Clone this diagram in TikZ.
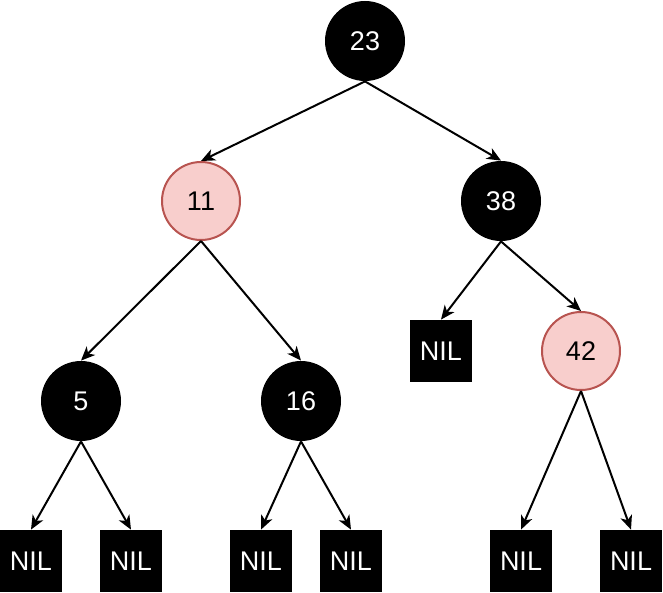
\documentclass[tikz,border=0pt]{standalone}
\usepackage{fontspec}
\setmainfont{Liberation Sans}
\usetikzlibrary{arrows.meta}
\definecolor{redfill}{HTML}{F8CECC}
\definecolor{redline}{HTML}{B85450}
\tikzset{
    blacknode/.style = {circle, fill=black, text=white, minimum size=40pt, inner sep=0pt, font=\fontsize{13.5}{16}\selectfont},
    rednode/.style = {circle, draw=redline, line width=1pt, fill=redfill, text=black, minimum size=39pt, inner sep=0pt, font=\fontsize{13.5}{16}\selectfont},
    nilnode/.style = {rectangle, fill=black, text=white, minimum size=31pt, inner sep=0pt, font=\fontsize{13.5}{16}\selectfont},
    edge/.style = {-{Stealth[length=7pt, width=6pt, inset=2pt]}, line width=1pt}
}
\begin{document}
\begin{tikzpicture}[x=0.5pt, y=-0.5pt]
    \useasboundingbox (0, 0) rectangle (663, 593);
    % inner nodes
    \node [blacknode] (n23) at (365, 41) {23};
    \node [rednode] (n11) at (201, 201) {11};
    \node [blacknode] (n38) at (501, 201) {38};
    \node [blacknode] (n5) at (81, 401) {5};
    \node [blacknode] (n16) at (301, 401) {16};
    \node [rednode] (n42) at (581, 351) {42};
    % leaves
    \node [nilnode] (nil38) at (441, 351) {NIL};
    \node [nilnode] (nil5a) at (31, 561) {NIL};
    \node [nilnode] (nil5b) at (131, 561) {NIL};
    \node [nilnode] (nil16a) at (261, 561) {NIL};
    \node [nilnode] (nil16b) at (351, 561) {NIL};
    \node [nilnode] (nil42a) at (521, 561) {NIL};
    \node [nilnode] (nil42b) at (631, 561) {NIL};
    % edges
    \draw [edge] (n23.south) -- (n11.north);
    \draw [edge] (n23.south) -- (n38.north);
    \draw [edge] (n11.south) -- (n5.north);
    \draw [edge] (n11.south) -- (n16.north);
    \draw [edge] (n38.south) -- (nil38.north);
    \draw [edge] (n38.south) -- (n42.north);
    \draw [edge] (n5.south) -- (nil5a.north);
    \draw [edge] (n5.south) -- (nil5b.north);
    \draw [edge] (n16.south) -- (nil16a.north);
    \draw [edge] (n16.south) -- (nil16b.north);
    \draw [edge] (n42.south) -- (nil42a.north);
    \draw [edge] (n42.south) -- (nil42b.north);
\end{tikzpicture}
\end{document}
